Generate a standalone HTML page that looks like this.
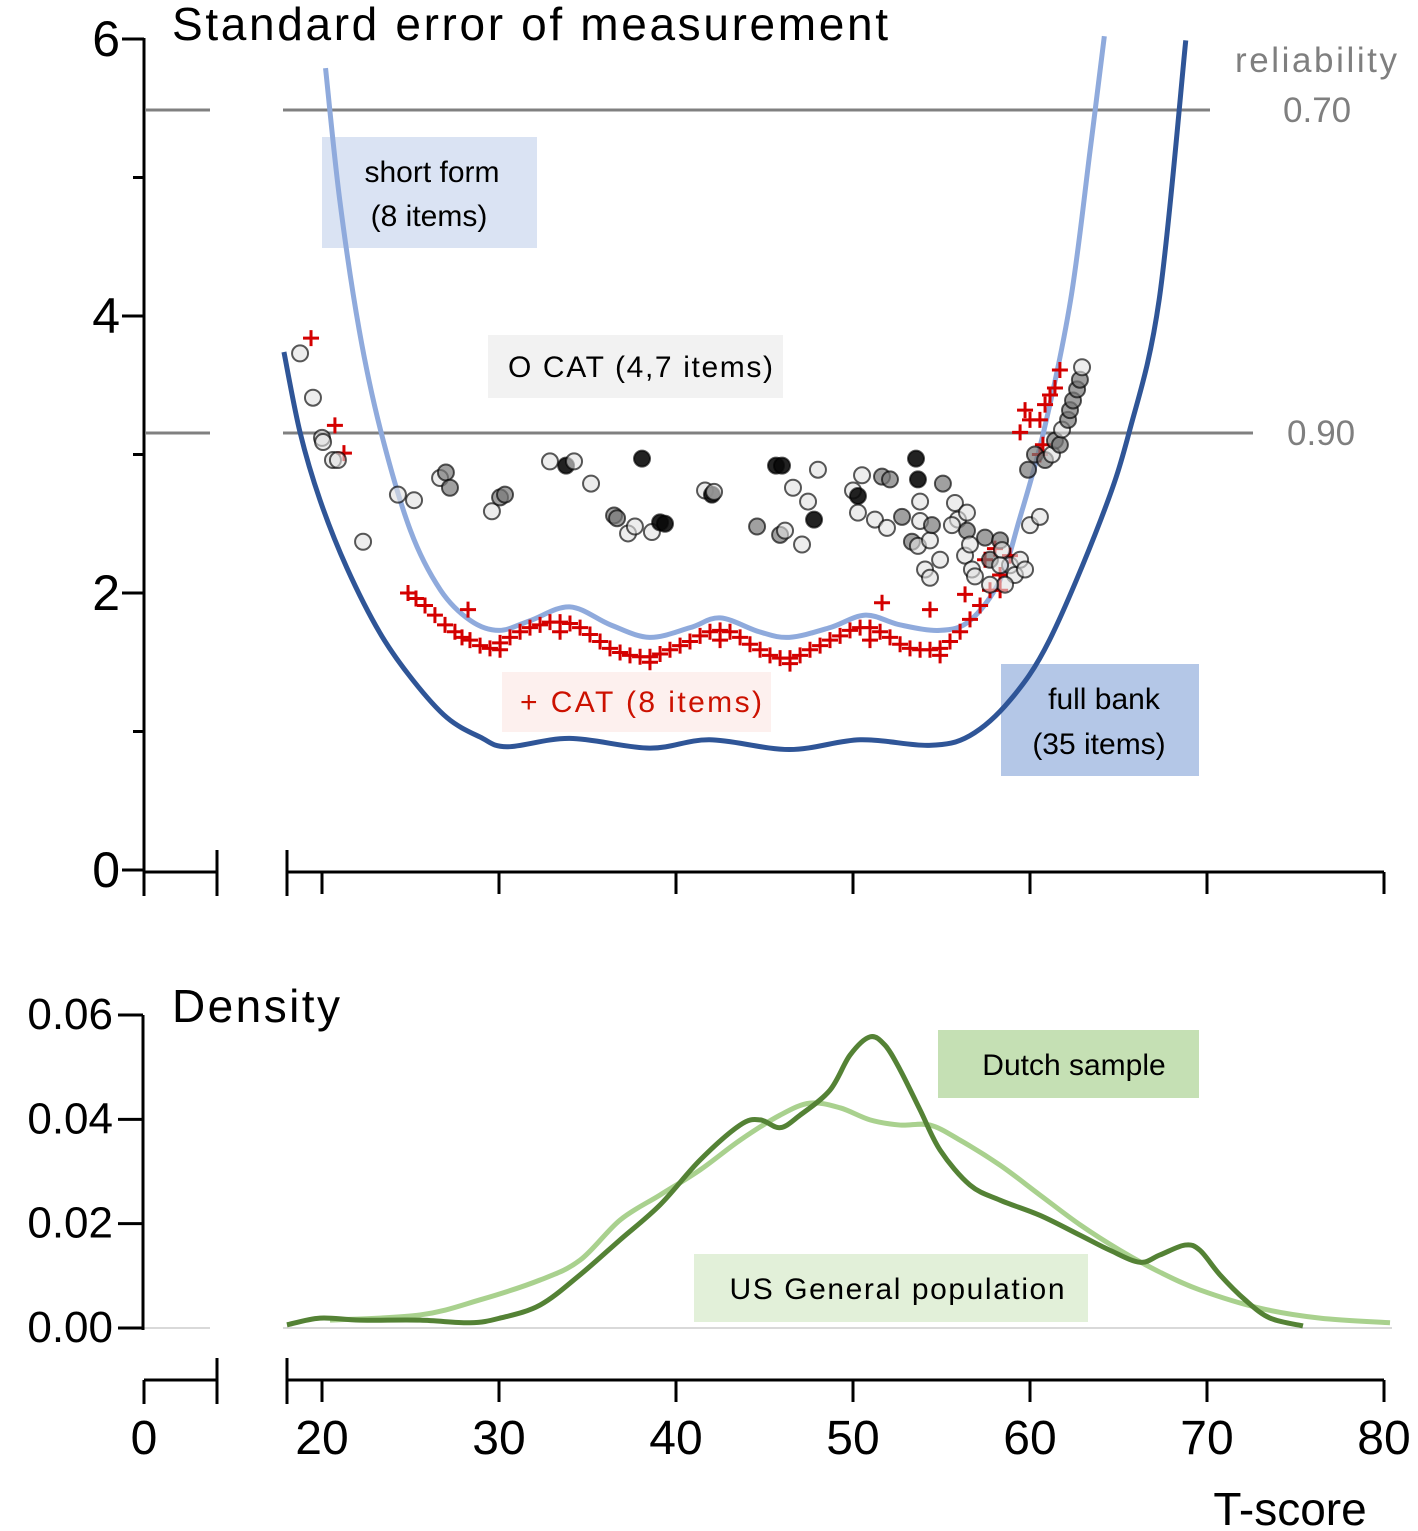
<!DOCTYPE html>
<html><head><meta charset="utf-8"><style>
html,body{margin:0;padding:0;background:#fff}
svg{display:block;font-family:"Liberation Sans",sans-serif}
</style></head><body>
<svg id="c" width="1418" height="1531" viewBox="0 0 1418 1531"></svg>
<script>
// ---------- data ----------
const fullBankT=[17.85,18.76,19.89,21.41,23.28,25.14,27.06,28.93,30.45,34,38.5,41.9,46.4,50.4,54.3,56.6,58.9,61.1,64,65.6,67.3,68.8];
const fullBankV=[3.74,3.16,2.67,2.18,1.71,1.37,1.10,0.96,0.89,0.95,0.88,0.94,0.87,0.94,0.90,0.97,1.23,1.66,2.53,3.16,4.12,5.99];
const shortT=[20.2,21,22.1,23.3,25,26.7,28.4,30,31.75,34,36.3,38.5,40.8,42.5,44.7,46.4,48.7,50.7,52.65,54.9,56.6,58.3,59.4,60.8,62.3,63.4,64.2];
const shortV=[5.79,4.84,3.90,3.18,2.45,2.02,1.80,1.73,1.80,1.90,1.77,1.68,1.75,1.82,1.72,1.68,1.75,1.84,1.77,1.73,1.80,2.09,2.53,3.18,4.12,5.2,6.02];
const catCircT=[18.76,19.49,20.0,20.06,20.62,20.9,22.32,24.29,25.2,26.67,27.0,27.23,29.6,30.06,30.34,32.88,33.79,34.24,35.2,38.08,36.5,36.67,37.29,37.68,38.64,39.1,39.38,41.64,42.03,42.15,45.65,45.99,44.58,45.88,46.16,47.12,47.8,46.61,47.46,48.02,50.0,50.28,50.51,50.28,51.64,52.09,53.56,53.67,55.08,51.24,51.92,52.77,53.79,53.79,53.33,53.67,54.35,54.46,55.76,55.93,56.44,56.44,56.33,55.59,56.61,54.92,54.07,54.35,56.72,56.89,57.46,57.74,58.31,58.42,58.87,59.15,59.44,59.72,58.59,57.74,58.31,60.0,60.56,59.89,60.28,60.85,61.24,61.41,61.69,61.81,62.15,62.26,62.43,62.66,62.82,62.94];
const catCircV=[3.73,3.41,3.12,3.09,2.96,2.96,2.37,2.71,2.67,2.83,2.87,2.76,2.59,2.69,2.71,2.95,2.92,2.95,2.79,2.97,2.56,2.54,2.43,2.48,2.44,2.51,2.50,2.74,2.71,2.73,2.92,2.92,2.48,2.42,2.45,2.35,2.53,2.76,2.66,2.89,2.74,2.70,2.85,2.58,2.84,2.82,2.97,2.82,2.79,2.53,2.47,2.55,2.66,2.52,2.37,2.34,2.38,2.49,2.65,2.53,2.58,2.45,2.27,2.49,2.35,2.24,2.17,2.11,2.17,2.12,2.40,2.24,2.38,2.31,2.20,2.13,2.24,2.17,2.06,2.06,2.20,2.49,2.55,2.89,3.00,2.96,3.00,3.10,3.07,3.18,3.25,3.32,3.39,3.47,3.54,3.63];
const catCircShade="wwwwwwwwwwggwggwdwwdggwwwddwdwddggwwdwwwwdwwggddgwwgwwgwwgwwwgwwwwwwwwgggwwwwwwwwwwgggwggwggggg";
const catPlusT=[19.38,20.73,21.24,24.86,25.31,25.82,26.38,26.95,27.51,27.91,28.36,28.25,28.93,29.49,30.06,30.62,31.19,31.75,32.32,32.88,33.45,34.01,34.58,35.14,35.71,36.27,36.84,37.40,37.97,38.53,39.10,39.66,40.23,40.79,41.36,41.92,42.49,43.05,43.62,44.18,44.75,45.31,45.88,46.44,47.01,47.57,48.14,48.70,49.27,49.83,50.40,50.96,51.53,52.09,52.66,53.22,53.79,54.35,54.92,55.48,56.05,56.61,57.18,57.74,58.31,58.87,51.64,54.35,56.33,59.72,60.0,59.44,60.56,60.85,61.13,61.41,61.69,60.73,60.56,33.45,38.53,46.44,54.92,42.49,50.96,30.06,58.31,57.46,58.02];
const catPlusV=[3.84,3.21,3.01,2.00,1.96,1.91,1.84,1.77,1.72,1.68,1.66,1.88,1.62,1.60,1.64,1.68,1.72,1.75,1.77,1.79,1.79,1.78,1.75,1.70,1.65,1.60,1.57,1.55,1.54,1.54,1.56,1.59,1.62,1.65,1.69,1.72,1.73,1.72,1.68,1.63,1.59,1.55,1.53,1.53,1.55,1.59,1.62,1.66,1.69,1.73,1.75,1.75,1.72,1.68,1.63,1.60,1.59,1.59,1.60,1.65,1.72,1.81,1.91,2.02,2.13,2.27,1.93,1.88,1.99,3.32,3.25,3.16,3.25,3.36,3.43,3.48,3.61,3.07,3.00,1.72,1.50,1.49,1.55,1.66,1.66,1.59,2.02,2.24,2.32];
const dutchT=[18.02,19.89,22.15,25.54,28.36,30.06,32.32,34.58,36.84,39.10,41.36,43.62,44.75,45.88,47.01,48.70,49.83,50.96,51.81,52.66,53.79,54.92,56.61,58.31,60.56,62.82,64.52,66.21,67.34,68.76,69.60,70.73,72.15,73.56,75.42];
const dutchD=[0.0006,0.0019,0.0015,0.0015,0.0010,0.0019,0.0044,0.0102,0.0169,0.0236,0.0322,0.0389,0.0399,0.0384,0.0408,0.0456,0.0523,0.0558,0.0542,0.0495,0.0418,0.0341,0.0274,0.0245,0.0216,0.0178,0.0149,0.0126,0.0140,0.0159,0.0149,0.0102,0.0054,0.0019,0.0004];
const usT=[20.45,25.54,28.93,32.32,34.58,36.84,39.10,41.36,43.62,45.88,47.57,49.27,50.96,52.66,54.35,56.05,58.31,60.56,62.82,65.08,67.34,69.60,72.99,76.38,80.34];
const usD=[0.0015,0.0025,0.0054,0.0092,0.0130,0.0207,0.0255,0.0303,0.0360,0.0408,0.0431,0.0422,0.0399,0.0389,0.0389,0.0360,0.0312,0.0255,0.0198,0.0149,0.0107,0.0073,0.0038,0.0019,0.0010];
const xTicks=[0,20,30,40,50,60,70,80];
const seTicks=[0,2,4,6];
const denTicks=["0.00","0.02","0.04","0.06"];

// ---------- axes ----------
const X=t=> t<10 ? 144+t*7.3 : 322+(t-20)*17.7;
const Y=v=>870-v*138.5;
const YD=d=>1328-d*5217;
const svg=document.getElementById('c');
const NS='http://www.w3.org/2000/svg';
function mk(tag,attrs,parent){const e=document.createElementNS(NS,tag);for(const k in attrs)e.setAttribute(k,attrs[k]);(parent||svg).appendChild(e);return e;}
function txt(s,x,y,size,fill,anchor){const e=mk('text',{x:x,y:y,'font-size':size,fill:fill||'#000','text-anchor':anchor||'start'});e.textContent=s;return e;}
function smooth(px,py){let d='M'+px[0]+','+py[0];for(let i=0;i<px.length-1;i++){const x0=px[Math.max(i-1,0)],y0=py[Math.max(i-1,0)],x1=px[i],y1=py[i],x2=px[i+1],y2=py[i+1],x3=px[Math.min(i+2,px.length-1)],y3=py[Math.min(i+2,px.length-1)];d+=' C'+(x1+(x2-x0)/6)+','+(y1+(y2-y0)/6)+' '+(x2-(x3-x1)/6)+','+(y2-(y3-y1)/6)+' '+x2+','+y2;}return d;}

// boxes
let b;
b=mk('rect',{x:322,y:137,width:215,height:111,fill:'#dae3f3'});


b=mk('rect',{x:488,y:335,width:295,height:63,fill:'#f2f2f2'});


b=mk('rect',{x:502,y:672,width:269,height:60,fill:'#fdf0ee'});


b=mk('rect',{x:1001,y:664,width:198,height:112,fill:'#b4c7e7'});


b=mk('rect',{x:938,y:1030,width:261,height:68,fill:'#c5e0b4'});


b=mk('rect',{x:694,y:1254,width:394,height:68,fill:'#e2f0d9'});



// reliability lines
let l;
[[110,1210,'reliability-070-line'],[433,1253,'reliability-090-line']].forEach(r=>{
  l=mk('path',{d:'M146,'+r[0]+'H210M283,'+r[0]+'H'+r[1],stroke:'#808080','stroke-width':3,fill:'none'});
  
  
});
l=mk('path',{d:'M143,1328H210M283,1328H1392',stroke:'#d9d9d9','stroke-width':2,fill:'none'});



// y axes
let ax=mk('g',{stroke:'#000','stroke-width':3,fill:'none'});


mk('path',{d:'M144,38V872'},ax);
seTicks.forEach(v=>{mk('path',{d:'M122,'+Y(v)+'H144'},ax);txt(String(v),120,Y(v)+17,50,'#000','end');});
[1,3,5].forEach(v=>mk('path',{d:'M133,'+Y(v)+'H144'},ax));
ax=mk('g',{stroke:'#000','stroke-width':3,fill:'none'});


mk('path',{d:'M143,1015V1330'},ax);
denTicks.forEach(s=>{const y=YD(parseFloat(s));mk('path',{d:'M118,'+y+'H143'},ax);txt(s,113,y+14,44,'#000','end');});

// x axes
[[872,'se-x-axis'],[1380,'density-x-axis']].forEach(a=>{
  const g=mk('g',{stroke:'#000','stroke-width':3,fill:'none'});
  
  
  const y=a[0];
  mk('path',{d:'M144,'+y+'H217M287,'+y+'H1384'},g);
  mk('path',{d:'M144,'+y+'V'+(y+24)},g);
  mk('path',{d:'M217,'+(y-22)+'V'+(y+24)},g);
  mk('path',{d:'M287,'+(y-22)+'V'+(y+24)},g);
  xTicks.slice(1).forEach(t=>mk('path',{d:'M'+X(t)+','+y+'V'+(y+22)},g));
});
xTicks.forEach(t=>{const e=txt(String(t),X(t),1454,48,'#000','middle');});

// curves
let c;
c=mk('path',{d:smooth(fullBankT.map(X),fullBankV.map(Y)),stroke:'#2f5597','stroke-width':5,fill:'none'});


c=mk('path',{d:smooth(shortT.map(X),shortV.map(Y)),stroke:'#8faadc','stroke-width':5,fill:'none'});



// CAT crosses
const pg=mk('g',{stroke:'#d40000','stroke-width':3,fill:'none'});


catPlusT.forEach((t,i)=>{const x=X(t),y=Y(catPlusV[i]);const p=mk('path',{d:'M'+(x-8)+','+y+'H'+(x+8)+'M'+x+','+(y-8)+'V'+(y+8)},pg);

});
// CAT circles
const shadeCol={w:'rgba(225,225,225,0.6)',g:'rgba(120,120,120,0.7)',d:'rgba(10,10,10,0.9)'};
const cg=mk('g',{});


catCircT.forEach((t,i)=>{const p=mk('circle',{cx:X(t),cy:Y(catCircV[i]),r:8,fill:shadeCol[catCircShade[i]||'w'],stroke:'rgba(0,0,0,0.65)','stroke-width':2},cg);

});

c=mk('path',{d:smooth(usT.map(X),usD.map(YD)),stroke:'#a9d18e','stroke-width':5,fill:'none'});


c=mk('path',{d:smooth(dutchT.map(X),dutchD.map(YD)),stroke:'#548235','stroke-width':5,fill:'none'});



// labels
const labels=[
['Standard error of measurement',172,40,46,'#000','start','se-title',716],
['Density',172,1022,46,'#000','start','density-title',168],
['reliability',1235,72,35,'#7f7f7f','start','reliability-label',162],
['0.70',1283,122,35,'#7f7f7f','start','reliability-070-label',0],
['0.90',1287,445,35,'#7f7f7f','start','reliability-090-label',0],
['short form',432,182,30,'#000','middle','short-form-label',0],
['(8 items)',429,226,30,'#000','middle','short-form-count',0],
['O  CAT (4,7 items)',508,377,30,'#000','start','cat-circle-label',265],
['+  CAT (8 items)',520,712,30,'#cc1100','start','cat-plus-label',242],
['full bank',1104,709,30,'#000','middle','full-bank-label',0],
['(35 items)',1099,754,30,'#000','middle','full-bank-count',0],
['Dutch sample',1074,1075,30,'#000','middle','dutch-label',0],
['US General population',897,1299,30,'#000','middle','us-label',335],
['T-score',1290,1525,46,'#000','middle','x-axis-title',0]];
labels.forEach(a=>{const e=txt(a[0],a[1],a[2],a[3],a[4],a[5]);
if(a[7])e.setAttribute('textLength',a[7]);

});
</script>
</body></html>
